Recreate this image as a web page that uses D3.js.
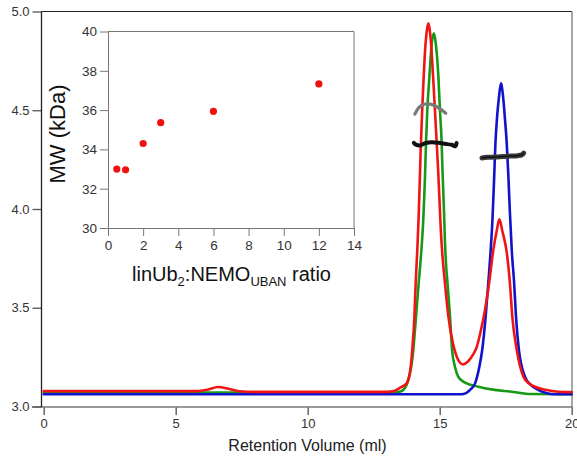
<!DOCTYPE html>
<html>
<head>
<meta charset="utf-8">
<script src="https://cdn.jsdelivr.net/npm/d3@7"></script>
<style>
  html, body { margin: 0; padding: 0; background: #fff; }
  svg { display: block; }
  text { font-family: "Liberation Sans", Arial, sans-serif; }
</style>
</head>
<body>
<svg id="chart" width="577" height="461"></svg>
<script>
// ---------------- DATA ----------------
// Main SEC-MALS chromatogram (retention volume in ml, molecular weight axis 3.0–5.0)
const xTicks = [0, 5, 10, 15, 20];
const yTicks = [3.0, 3.5, 4.0, 4.5, 5.0];

const greenVol = [0, 13.3, 13.45, 13.62, 13.8, 13.92, 14.0, 14.1, 14.2, 14.3, 14.38, 14.44, 14.48, 14.53, 14.61, 14.70, 14.78, 14.85, 14.95, 15.01, 15.07, 15.11, 15.16, 15.2, 15.25, 15.3, 15.39, 15.47, 15.58, 15.70, 15.85, 16.02, 16.46, 17.09, 17.72, 18.0, 18.36, 20];
const greenVal = [3.071, 3.071, 3.074, 3.084, 3.13, 3.2, 3.286, 3.45, 3.62, 3.78, 3.95, 4.15, 4.33, 4.5, 4.67, 4.84, 4.89, 4.84, 4.67, 4.50, 4.35, 4.18, 4.0, 3.83, 3.7, 3.62, 3.455, 3.286, 3.2, 3.151, 3.13, 3.117, 3.10, 3.084, 3.075, 3.07, 3.063, 3.062];

const blueVol = [0, 15.8, 16.0, 16.15, 16.34, 16.5, 16.61, 16.74, 16.84, 16.93, 17.0, 17.06, 17.11, 17.17, 17.24, 17.32, 17.40, 17.47, 17.54, 17.60, 17.66, 17.73, 17.82, 17.89, 18.0, 18.23, 18.45, 18.73, 19.0, 19.37, 20];
const blueVal = [3.062, 3.062, 3.068, 3.084, 3.117, 3.2, 3.286, 3.455, 3.624, 3.79, 3.95, 4.15, 4.33, 4.46, 4.56, 4.636, 4.57, 4.46, 4.33, 4.17, 3.98, 3.79, 3.624, 3.455, 3.286, 3.151, 3.11, 3.084, 3.07, 3.062, 3.062];

const redVol = [0, 5.8, 6.2, 6.6, 7.0, 7.4, 8.0, 13.0, 13.3, 13.5, 13.75, 13.9, 13.96, 14.04, 14.09, 14.15, 14.2, 14.24, 14.28, 14.33, 14.39, 14.46, 14.52, 14.57, 14.62, 14.67, 14.75, 14.82, 14.88, 14.94, 14.99, 15.04, 15.09, 15.2, 15.33, 15.5, 15.6, 15.75, 15.89, 16.05, 16.25, 16.40, 16.55, 16.69, 16.87, 17.03, 17.16, 17.26, 17.37, 17.54, 17.66, 17.75, 17.92, 18.17, 18.4, 18.61, 19.0, 19.5, 20];
const redVal = [3.078, 3.078, 3.085, 3.099, 3.09, 3.077, 3.074, 3.074, 3.08, 3.095, 3.117, 3.2, 3.286, 3.45, 3.624, 3.79, 3.95, 4.12, 4.3, 4.48, 4.66, 4.83, 4.91, 4.94, 4.91, 4.84, 4.67, 4.50, 4.35, 4.2, 4.05, 3.9, 3.79, 3.624, 3.455, 3.32, 3.27, 3.225, 3.213, 3.225, 3.26, 3.30, 3.38, 3.47, 3.624, 3.792, 3.89, 3.948, 3.89, 3.78, 3.624, 3.455, 3.286, 3.151, 3.115, 3.10, 3.085, 3.075, 3.073];

// Hand-drawn MW marks across the peaks
const arcVol = [14.06, 14.2, 14.4, 14.57, 14.8, 15.0, 15.23];
const arcVal = [4.48, 4.512, 4.53, 4.532, 4.524, 4.508, 4.485];
const mark1Vol = [14.02, 14.1, 14.25, 14.45, 14.7, 14.95, 15.2, 15.45, 15.6, 15.64];
const mark1Val = [4.335, 4.326, 4.322, 4.333, 4.338, 4.335, 4.33, 4.325, 4.318, 4.334];
const mark2Vol = [16.6, 16.8, 17.1, 17.4, 17.7, 17.95, 18.12, 18.18];
const mark2Val = [4.258, 4.262, 4.263, 4.266, 4.268, 4.27, 4.275, 4.283];

// Inset: MW vs linUb2:NEMO ratio
const insetRatio = [0.5, 1, 2, 3, 6, 12];
const insetMW = [33.0, 32.96, 34.3, 35.36, 35.94, 37.33];
const insetXTicks = [0, 2, 4, 6, 8, 10, 12, 14];
const insetYTicks = [30, 32, 34, 36, 38, 40];

// ---------------- DRAW ----------------
const svg = d3.select("#chart");

const x = d3.scaleLinear().domain([0, 20]).range([43.7, 571.7]);
const y = d3.scaleLinear().domain([3, 5]).range([406.5, 11.5]);

const plotL = 41.5, plotR = 572, plotT = 11.5, plotB = 407;

// frame
svg.append("line").attr("x1", plotL).attr("x2", plotR).attr("y1", plotT).attr("y2", plotT)
  .attr("stroke", "#222").attr("stroke-width", 1.2);
svg.append("line").attr("x1", plotR).attr("x2", plotR).attr("y1", plotT).attr("y2", plotB)
  .attr("stroke", "#888").attr("stroke-width", 1.5);

// x axis (bottom)
const xAxis = svg.append("g").attr("transform", `translate(0,${plotB})`)
  .call(d3.axisBottom(x).tickValues(xTicks).tickSize(8).tickPadding(4).tickSizeOuter(0).tickFormat(d3.format("d")));
xAxis.select(".domain").remove();
svg.append("line").attr("x1", 32).attr("x2", plotR).attr("y1", plotB).attr("y2", plotB)
  .attr("stroke", "#777").attr("stroke-width", 1.5);
xAxis.selectAll(".tick line").attr("stroke", "#666").attr("stroke-width", 1.5);
xAxis.selectAll(".tick text").attr("font-size", 13).attr("fill", "#333")
  .attr("font-family", "Liberation Sans, Arial, sans-serif");

// y axis (left)
const yAxis = svg.append("g").attr("transform", `translate(${plotL},0)`)
  .call(d3.axisLeft(y).tickValues(yTicks).tickSize(9).tickPadding(3).tickSizeOuter(0).tickFormat(d3.format(".1f")));
yAxis.select(".domain").remove();
svg.append("line").attr("x1", plotL).attr("x2", plotL).attr("y1", plotT).attr("y2", plotB)
  .attr("stroke", "#222").attr("stroke-width", 1.3);
yAxis.selectAll(".tick line").attr("stroke", "#555").attr("stroke-width", 1.3);
yAxis.selectAll(".tick text").attr("font-size", 13).attr("fill", "#333")
  .attr("font-family", "Liberation Sans, Arial, sans-serif");

// x axis label
svg.append("text").attr("x", 307.5).attr("y", 451).attr("text-anchor", "middle")
  .attr("font-size", 16).attr("fill", "#222").text("Retention Volume (ml)");

// curves
const line = d3.line().x(d => x(d[0])).y(d => y(d[1])).curve(d3.curveMonotoneX);
const zip = (a, b) => a.map((v, i) => [v, b[i]]);

const series = [
  { vol: greenVol, val: greenVal, color: "#169a16" },
  { vol: blueVol, val: blueVal, color: "#1212cc" },
  { vol: redVol, val: redVal, color: "#f01414" }
];
series.forEach(s => {
  svg.append("path").datum(zip(s.vol, s.val)).attr("d", line)
    .attr("fill", "none").attr("stroke", s.color).attr("stroke-width", 2.6)
    .attr("stroke-linejoin", "round").attr("stroke-linecap", "round");
});

// hand-drawn MW marks
const smooth = d3.line().x(d => x(d[0])).y(d => y(d[1])).curve(d3.curveCatmullRom);
svg.append("path").datum(zip(arcVol, arcVal)).attr("d", smooth)
  .attr("fill", "none").attr("stroke", "#7a7a7a").attr("stroke-width", 3.2).attr("stroke-linecap", "round");
svg.append("path").datum(zip(mark1Vol, mark1Val)).attr("d", smooth)
  .attr("fill", "none").attr("stroke", "#111").attr("stroke-width", 4).attr("stroke-linecap", "round");
svg.append("path").datum(zip(mark2Vol, mark2Val)).attr("d", smooth)
  .attr("fill", "none").attr("stroke", "#3c3c3c").attr("stroke-width", 5).attr("stroke-linecap", "round");
svg.append("path").datum(zip(mark2Vol, mark2Val)).attr("d", smooth)
  .attr("fill", "none").attr("stroke", "#111").attr("stroke-width", 1.5).attr("stroke-linecap", "round");

// ---------------- INSET ----------------
const ix = d3.scaleLinear().domain([0, 14]).range([108, 354]);
const iy = d3.scaleLinear().domain([30, 40]).range([228, 31.5]);

const inset = svg.append("g");
// frame top/right
inset.append("line").attr("x1", ix(0)).attr("x2", ix(14)).attr("y1", iy(40)).attr("y2", iy(40))
  .attr("stroke", "#777").attr("stroke-width", 1);
inset.append("line").attr("x1", ix(14)).attr("x2", ix(14)).attr("y1", iy(40)).attr("y2", iy(30))
  .attr("stroke", "#777").attr("stroke-width", 1);

const ixAxis = inset.append("g").attr("transform", `translate(0,${iy(30)})`)
  .call(d3.axisBottom(ix).tickValues(insetXTicks).tickSize(8).tickPadding(4).tickSizeOuter(0).tickFormat(d3.format("d")));
const iyAxis = inset.append("g").attr("transform", `translate(${ix(0)},0)`)
  .call(d3.axisLeft(iy).tickValues(insetYTicks).tickSize(8).tickPadding(3).tickSizeOuter(0).tickFormat(d3.format("d")));
[ixAxis, iyAxis].forEach(a => {
  a.select(".domain").attr("stroke", "#777").attr("stroke-width", 1);
  a.selectAll(".tick line").attr("stroke", "#777").attr("stroke-width", 1);
  a.selectAll(".tick text").attr("font-size", 13.5).attr("fill", "#333")
    .attr("font-family", "Liberation Sans, Arial, sans-serif");
});

inset.selectAll("circle.pt").data(zip(insetRatio, insetMW)).join("circle")
  .attr("class", "pt")
  .attr("cx", d => ix(d[0])).attr("cy", d => iy(d[1])).attr("r", 3.6).attr("fill", "#f01010");

inset.append("text").attr("transform", "translate(65,134) rotate(-90)")
  .attr("text-anchor", "middle").attr("font-size", 22).attr("fill", "#111").text("MW (kDa)");

const xl = inset.append("text").attr("x", 231.5).attr("y", 281).attr("text-anchor", "middle")
  .attr("font-size", 20).attr("fill", "#111").attr("font-family", "Liberation Sans, Arial, sans-serif");
xl.append("tspan").text("linUb");
xl.append("tspan").attr("font-size", 13).attr("dy", 5).text("2");
xl.append("tspan").attr("dy", -5).text(":NEMO");
xl.append("tspan").attr("font-size", 13).attr("dy", 5).text("UBAN");
xl.append("tspan").attr("dy", -5).text(" ratio");
</script>
</body>
</html>
